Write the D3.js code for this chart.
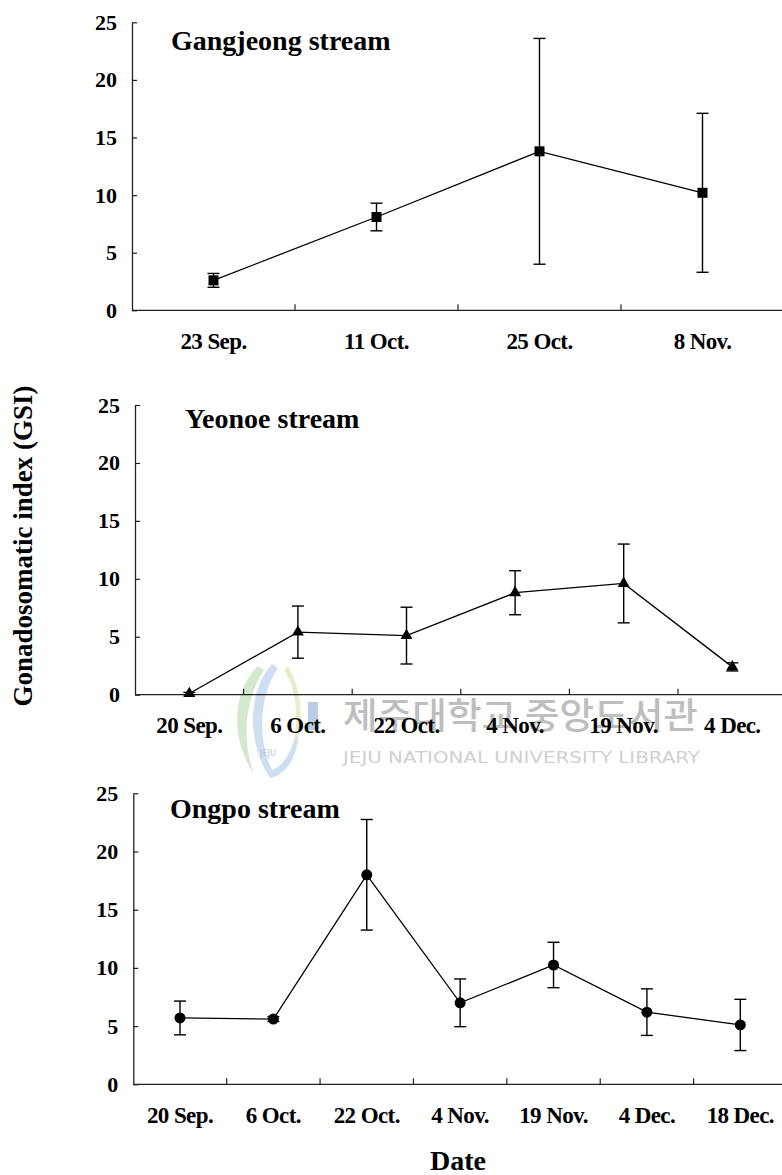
<!DOCTYPE html>
<html>
<head>
<meta charset="utf-8">
<script src="https://cdn.jsdelivr.net/npm/d3@7"></script>
<style>
  html, body { margin: 0; padding: 0; background: #fff; }
  svg { display: block; }
  text { font-family: "Liberation Serif", "Times New Roman", serif; font-weight: bold; fill: #000; }
</style>
</head>
<body>
<svg id="chart" width="782" height="1175"></svg>
<script>
// Gonadosomatic index (mean ± SD) by sampling date, three streams
const gangjeongDates = ["23 Sep.", "11 Oct.", "25 Oct.", "8 Nov."];
const gangjeongGSI   = [2.6, 8.1, 13.8, 10.2];
const gangjeongSD    = [0.6, 1.2, 9.8, 6.9];

const yeonoeDates = ["20 Sep.", "6 Oct.", "22 Oct.", "4 Nov.", "19 Nov.", "4 Dec."];
const yeonoeGSI   = [0.1, 5.4, 5.1, 8.8, 9.6, 2.4];
const yeonoeSD    = [0.1, 2.25, 2.45, 1.9, 3.4, 0.35];

const ongpoDates = ["20 Sep.", "6 Oct.", "22 Oct.", "4 Nov.", "19 Nov.", "4 Dec.", "18 Dec."];
const ongpoGSI   = [5.7, 5.6, 18.0, 7.0, 10.25, 6.2, 5.1];
const ongpoSD    = [1.45, 0.2, 4.75, 2.05, 1.95, 2.0, 2.2];

const yTicks = [0, 5, 10, 15, 20, 25];
const streamNames = ["Gangjeong stream", "Yeonoe stream", "Ongpo stream"];

const SERIF = "Liberation Serif, Times New Roman, serif";
const svg = d3.select("#chart");

// Panel frames (pixel layout)
const panels = [
  { name: streamNames[0], dates: gangjeongDates, gsi: gangjeongGSI, sd: gangjeongSD,
    left: 132, right: 784, top: 22.3, bottom: 310.3, titleX: 171, titleY: 50,
    symbol: d3.symbolSquare, size: 100 },
  { name: streamNames[1], dates: yeonoeDates, gsi: yeonoeGSI, sd: yeonoeSD,
    left: 135, right: 786.6, top: 405, bottom: 694.7, titleX: 185, titleY: 428,
    symbol: d3.symbolTriangle, size: 62 },
  { name: streamNames[2], dates: ongpoDates, gsi: ongpoGSI, sd: ongpoSD,
    left: 133.3, right: 787, top: 793.3, bottom: 1084.3, titleX: 170, titleY: 818,
    symbol: d3.symbolCircle, size: 95 }
];

// Faint library watermark behind the middle of the figure
const wm = svg.append("g").attr("class", "watermark");
wm.append("path")
  .attr("d", "M258,666 C232,690 230,740 254,774 C242,742 244,700 264,670 Z")
  .attr("fill", "#cfe6c8").attr("opacity", 0.9);
wm.append("path")
  .attr("d", "M272,664 C248,690 246,742 270,778 C292,774 302,744 298,716 C296,748 284,766 272,770 C258,742 258,698 278,668 Z")
  .attr("fill", "#c9dcef").attr("opacity", 0.9);
wm.append("path")
  .attr("d", "M284,670 C296,688 300,720 292,748 C306,726 302,690 288,666 Z")
  .attr("fill", "#e2edc4").attr("opacity", 0.9);
wm.append("rect").attr("x", 308).attr("y", 702).attr("width", 10).attr("height", 28)
  .attr("fill", "#b9cde6");
wm.append("text").attr("x", 268).attr("y", 756).attr("text-anchor", "middle")
  .style("font-family", "DejaVu Sans").style("font-weight", "normal")
  .style("font-size", "8px").style("fill", "#b8c4d6").text("JEJU");
wm.append("text").attr("x", 343).attr("y", 729)
  .style("font-family", "Noto Sans CJK KR").style("font-weight", "500")
  .style("font-size", "36px").style("fill", "#bebebe")
  .attr("textLength", 355).attr("lengthAdjust", "spacingAndGlyphs")
  .text("제주대학교 중앙도서관");
wm.append("text").attr("x", 343).attr("y", 763)
  .style("font-family", "DejaVu Sans").style("font-weight", "normal")
  .style("font-size", "15px").style("fill", "#d0d0d0")
  .attr("textLength", 357).attr("lengthAdjust", "spacingAndGlyphs")
  .text("JEJU NATIONAL UNIVERSITY  LIBRARY");

panels.forEach(p => {
  const g = svg.append("g");
  const x = d3.scaleBand().domain(p.dates).range([p.left, p.right]).padding(0);
  const y = d3.scaleLinear().domain([0, 25]).range([p.bottom, p.top]);

  // y axis with inward ticks
  const yAxis = d3.axisLeft(y).tickValues(yTicks).tickSizeInner(-5).tickSizeOuter(0).tickPadding(15);
  const ya = g.append("g").attr("transform", `translate(${p.left},0)`).call(yAxis)
    .attr("font-family", SERIF);
  ya.select(".domain").attr("stroke", "#222").attr("stroke-width", 1.3);
  ya.selectAll(".tick line").attr("stroke", "#222").attr("stroke-width", 1.2);
  ya.selectAll(".tick text")
    .attr("font-family", SERIF).style("font-family", SERIF).style("font-weight", "bold")
    .style("font-size", "22px").attr("fill", "#000");

  // x axis line with inward ticks at category boundaries
  g.append("line").attr("x1", p.left).attr("x2", p.right)
    .attr("y1", y(0)).attr("y2", y(0)).attr("stroke", "#222").attr("stroke-width", 1.3);
  g.selectAll(".xtick").data(p.dates.slice(1)).join("line")
    .attr("x1", d => x(d)).attr("x2", d => x(d))
    .attr("y1", y(0)).attr("y2", y(0) - 6)
    .attr("stroke", "#222").attr("stroke-width", 1.2);

  // category labels
  g.selectAll(".xlab").data(p.dates).join("text")
    .attr("x", d => x(d) + x.bandwidth() / 2)
    .attr("y", y(0) + 38.5)
    .attr("text-anchor", "middle")
    .style("font-size", "23px")
    .style("letter-spacing", "-0.6px")
    .text(d => d);

  // panel title
  g.append("text").attr("x", p.titleX).attr("y", p.titleY)
    .style("font-size", "28px").text(p.name);

  const cx = (d, i) => x(p.dates[i]) + x.bandwidth() / 2;

  // error bars
  const eb = g.selectAll(".eb").data(p.gsi).join("g");
  eb.append("line")
    .attr("x1", cx).attr("x2", cx)
    .attr("y1", (d, i) => y(d + p.sd[i])).attr("y2", (d, i) => y(Math.max(0, d - p.sd[i])))
    .attr("stroke", "#000").attr("stroke-width", 1.4);
  eb.append("line")
    .attr("x1", (d, i) => cx(d, i) - 6).attr("x2", (d, i) => cx(d, i) + 6)
    .attr("y1", (d, i) => y(d + p.sd[i])).attr("y2", (d, i) => y(d + p.sd[i]))
    .attr("stroke", "#000").attr("stroke-width", 1.4);
  eb.append("line")
    .attr("x1", (d, i) => cx(d, i) - 6).attr("x2", (d, i) => cx(d, i) + 6)
    .attr("y1", (d, i) => y(Math.max(0, d - p.sd[i]))).attr("y2", (d, i) => y(Math.max(0, d - p.sd[i])))
    .attr("stroke", "#000").attr("stroke-width", 1.4);

  // connecting line
  const line = d3.line().x((d, i) => cx(d, i)).y(d => y(d));
  g.append("path").datum(p.gsi).attr("d", line)
    .attr("fill", "none").attr("stroke", "#000").attr("stroke-width", 1.3);

  // markers
  g.selectAll(".mk").data(p.gsi).join("path")
    .attr("transform", (d, i) => `translate(${cx(d, i)},${y(d)})`)
    .attr("d", d3.symbol().type(p.symbol).size(p.size))
    .attr("fill", "#000");
});

// shared axis titles
svg.append("text")
  .attr("transform", "translate(32,546) rotate(-90)")
  .attr("text-anchor", "middle")
  .style("font-size", "27px")
  .text("Gonadosomatic index (GSI)");

svg.append("text")
  .attr("x", 458).attr("y", 1170)
  .attr("text-anchor", "middle")
  .style("font-size", "28px")
  .text("Date");
</script>
</body>
</html>
